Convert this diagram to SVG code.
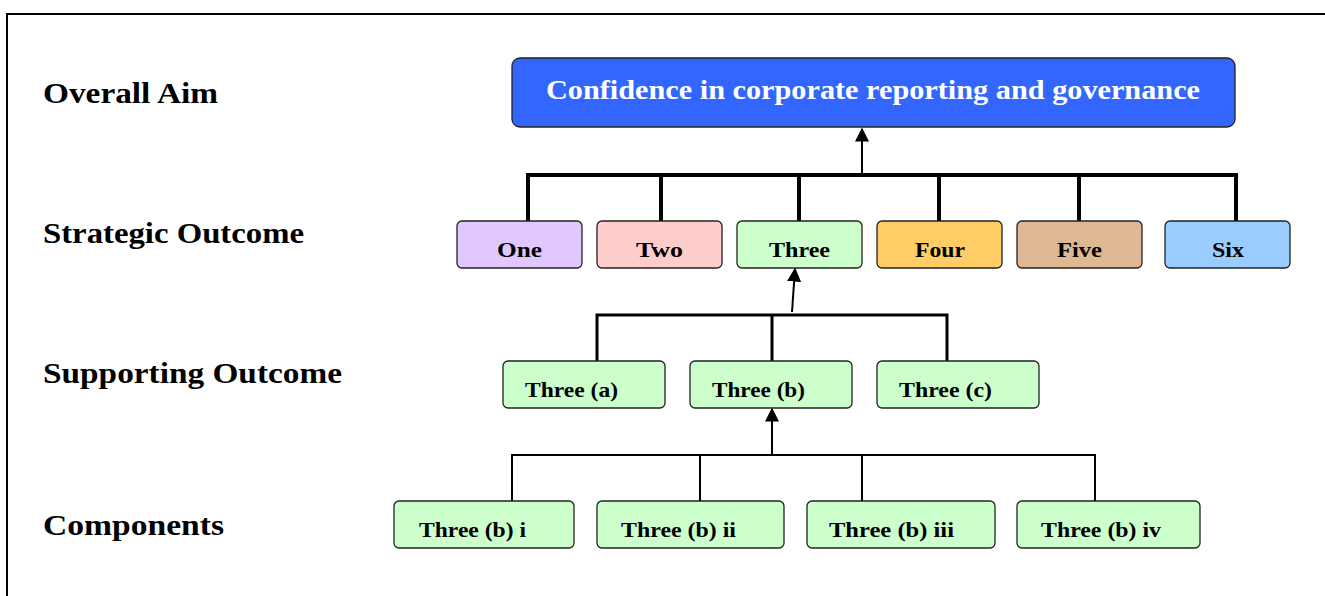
<svg xmlns="http://www.w3.org/2000/svg" width="1325" height="596" viewBox="0 0 1325 596">
<defs>
<style>
.lbl{font-family:"Liberation Serif","Times New Roman",serif;font-weight:bold;font-size:30px;fill:#000}
.bx{stroke:#222;stroke-width:1.3}
.t{font-family:"Liberation Serif","Times New Roman",serif;font-weight:bold;font-size:22px;fill:#000}
.tc{text-anchor:middle}
.conn{fill:none;stroke:#000}
</style>
<marker id="ah2" viewBox="0 0 10 10" refX="9" refY="5" markerWidth="14" markerHeight="14" markerUnits="userSpaceOnUse" orient="auto">
<path d="M0,0 L10,5 L0,10 z" fill="#000"/>
</marker>
</defs>
<rect width="1325" height="596" fill="#fff"/>
<path d="M7,600 V14 H1330" fill="none" stroke="#000" stroke-width="2"/>

<g id="labels">
<text class="lbl" x="43" y="103" textLength="175" lengthAdjust="spacingAndGlyphs">Overall Aim</text>
<text class="lbl" x="43" y="243" textLength="261" lengthAdjust="spacingAndGlyphs">Strategic Outcome</text>
<text class="lbl" x="43" y="383" textLength="299" lengthAdjust="spacingAndGlyphs">Supporting Outcome</text>
<text class="lbl" x="43" y="535" textLength="181" lengthAdjust="spacingAndGlyphs">Components</text>
</g>

<g id="connectors">
<path class="conn" stroke-width="4" d="M528,221 V175 H1236 V221 M661,175 V221 M799,175 V221 M939,175 V221 M1079,175 V221"/>
<line class="conn" stroke-width="2" x1="862" y1="175" x2="862" y2="129" marker-end="url(#ah2)"/>
<path class="conn" stroke-width="3" d="M597,361 V315 H947 V361 M772,315 V361"/>
<line class="conn" stroke-width="2" x1="792" y1="312" x2="795" y2="269" marker-end="url(#ah2)"/>
<path class="conn" stroke-width="2" d="M512,501 V455 H1095 V501 M700,455 V501 M862,455 V501"/>
<line class="conn" stroke-width="2" x1="772" y1="455" x2="772" y2="409" marker-end="url(#ah2)"/>
</g>

<g id="aim">
<rect class="bx" x="512" y="58" width="723" height="69" rx="8" fill="#3366FF"/>
<text class="t" x="546" y="99" textLength="654" lengthAdjust="spacingAndGlyphs" style="font-size:28px;fill:#fff">Confidence in corporate reporting and governance</text>
</g>

<g id="s1"><rect class="bx" x="457" y="221" width="125" height="47" rx="5" fill="#E0C8FF"/><text class="t" x="497" y="257" textLength="45" lengthAdjust="spacingAndGlyphs">One</text></g>
<g id="s2"><rect class="bx" x="597" y="221" width="125" height="47" rx="5" fill="#FFCCCC"/><text class="t" x="636" y="257" textLength="47" lengthAdjust="spacingAndGlyphs">Two</text></g>
<g id="s3"><rect class="bx" x="737" y="221" width="125" height="47" rx="5" fill="#CCFFCC"/><text class="t" x="769" y="257" textLength="61" lengthAdjust="spacingAndGlyphs">Three</text></g>
<g id="s4"><rect class="bx" x="877" y="221" width="125" height="47" rx="5" fill="#FFCC66"/><text class="t" x="915" y="257" textLength="50" lengthAdjust="spacingAndGlyphs">Four</text></g>
<g id="s5"><rect class="bx" x="1017" y="221" width="125" height="47" rx="5" fill="#DDB892"/><text class="t" x="1057" y="257" textLength="45" lengthAdjust="spacingAndGlyphs">Five</text></g>
<g id="s6"><rect class="bx" x="1165" y="221" width="125" height="47" rx="5" fill="#99CCFF"/><text class="t" x="1212" y="257" textLength="32" lengthAdjust="spacingAndGlyphs">Six</text></g>

<g id="sa"><rect class="bx" x="503" y="361" width="162" height="47" rx="5" fill="#CCFFCC"/><text class="t" x="525" y="397" textLength="93" lengthAdjust="spacingAndGlyphs">Three (a)</text></g>
<g id="sb"><rect class="bx" x="690" y="361" width="162" height="47" rx="5" fill="#CCFFCC"/><text class="t" x="712" y="397" textLength="93" lengthAdjust="spacingAndGlyphs">Three (b)</text></g>
<g id="sc"><rect class="bx" x="877" y="361" width="162" height="47" rx="5" fill="#CCFFCC"/><text class="t" x="899" y="397" textLength="93" lengthAdjust="spacingAndGlyphs">Three (c)</text></g>

<g id="c1"><rect class="bx" x="394" y="501" width="180" height="47" rx="5" fill="#CCFFCC"/><text class="t" x="419" y="537" textLength="107" lengthAdjust="spacingAndGlyphs">Three (b) i</text></g>
<g id="c2"><rect class="bx" x="597" y="501" width="187" height="47" rx="5" fill="#CCFFCC"/><text class="t" x="621" y="537" textLength="115" lengthAdjust="spacingAndGlyphs">Three (b) ii</text></g>
<g id="c3"><rect class="bx" x="807" y="501" width="188" height="47" rx="5" fill="#CCFFCC"/><text class="t" x="829" y="537" textLength="125" lengthAdjust="spacingAndGlyphs">Three (b) iii</text></g>
<g id="c4"><rect class="bx" x="1017" y="501" width="183" height="47" rx="5" fill="#CCFFCC"/><text class="t" x="1041" y="537" textLength="120" lengthAdjust="spacingAndGlyphs">Three (b) iv</text></g>
</svg>
